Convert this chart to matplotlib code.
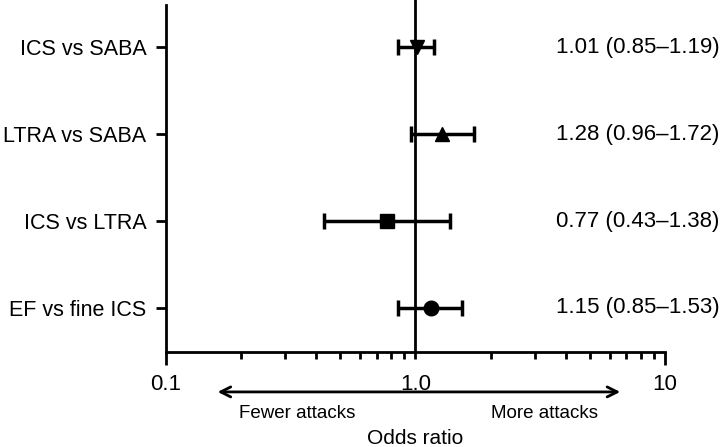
import numpy as np
import matplotlib.pyplot as plt
from matplotlib.ticker import FixedLocator, NullFormatter
from matplotlib.transforms import blended_transform_factory

plt.rcParams['font.family'] = ['Liberation Sans', 'DejaVu Sans']

labels = ['ICS vs SABA', 'LTRA vs SABA', 'ICS vs LTRA', 'EF vs fine ICS']
odds = [1.01, 1.28, 0.77, 1.15]
lower = [0.85, 0.96, 0.43, 0.85]
upper = [1.19, 1.72, 1.38, 1.53]
markers = ['v', '^', 's', 'o']
ci_text = ['1.01 (0.85\u20131.19)', '1.28 (0.96\u20131.72)',
           '0.77 (0.43\u20131.38)', '1.15 (0.85\u20131.53)']

fig = plt.figure(figsize=(7.22, 4.47), dpi=100)
ax = fig.add_axes([0.2299, 0.2125, 0.6911, 0.7763])
ax.set_xscale('log')
ax.set_xlim(0.1, 10)
ax.set_ylim(0.494, 4.483)

ypos = np.arange(len(labels), 0, -1)
for y, o, lo, hi, m in zip(ypos, odds, lower, upper, markers):
    ax.errorbar(o, y, xerr=[[o - lo], [hi - o]], fmt=m, color='black',
                ms=10.5, elinewidth=2.5, capsize=6, capthick=2.5)

# line of no effect
ax.axvline(1.0, color='black', lw=2, zorder=0, ymax=1.02, clip_on=False)

for sp in ['top', 'right']:
    ax.spines[sp].set_visible(False)
ax.spines['bottom'].set_linewidth(2)
ax.spines['left'].set_linewidth(2)

ax.set_yticks(ypos)
ax.set_yticklabels(labels, fontsize=15.5)
ax.tick_params(axis='y', length=7, width=2, pad=7)

ax.xaxis.set_major_locator(FixedLocator([0.1, 1.0, 10]))
ax.set_xticklabels(['0.1', '1.0', '10'], fontsize=16)
ax.xaxis.set_minor_locator(FixedLocator(
    [k * 0.1 for k in range(2, 10)] + list(range(2, 10))))
ax.xaxis.set_minor_formatter(NullFormatter())
ax.tick_params(axis='x', which='major', length=9, width=2, pad=7)
ax.tick_params(axis='x', which='minor', length=5, width=2)
ax.xaxis.get_major_ticks()[1].tick1line.set_markersize(5)

# odds ratio (95% CI) column at the right edge of the figure
trans = blended_transform_factory(fig.transFigure, ax.transData)
for y, ci in zip(ypos, ci_text):
    ax.text(0.997, y, ci, transform=trans, ha='right', va='center',
            fontsize=16, clip_on=False)

ax.annotate('', xy=(0.157, -0.115), xytext=(6.79, -0.115),
            xycoords=('data', 'axes fraction'),
            textcoords=('data', 'axes fraction'),
            arrowprops=dict(arrowstyle='<->', color='black', lw=2,
                            mutation_scale=18), annotation_clip=False)
ax.text(0.335, -0.178, 'Fewer attacks', transform=ax.get_xaxis_transform(),
        ha='center', va='center', fontsize=13.5)
ax.text(3.3, -0.178, 'More attacks', transform=ax.get_xaxis_transform(),
        ha='center', va='center', fontsize=13.5)
ax.text(1.0, -0.25, 'Odds ratio', transform=ax.get_xaxis_transform(),
        ha='center', va='center', fontsize=15)

fig.savefig('out.png', dpi=100)
